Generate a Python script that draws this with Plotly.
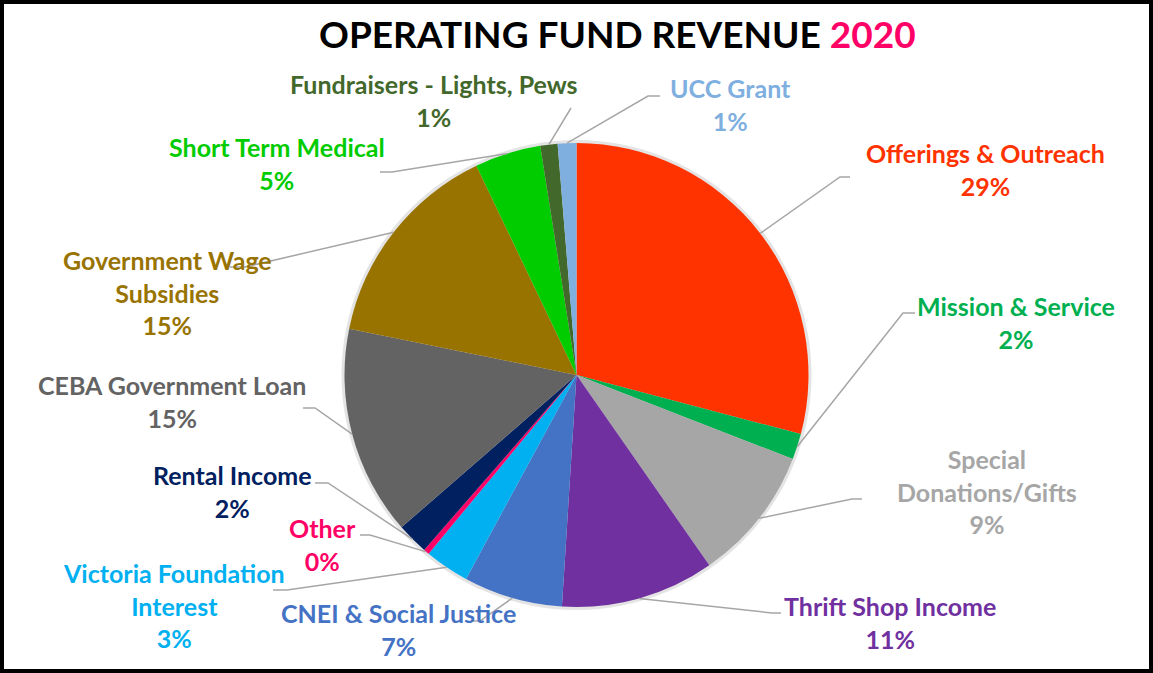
import math
import plotly.graph_objects as go

# ---------------- data ----------------
categories = ["Offerings & Outreach", "Mission & Service", "Special Donations/Gifts",
              "Thrift Shop Income", "CNEI & Social Justice", "Victoria Foundation Interest",
              "Other", "Rental Income", "CEBA Government Loan", "Government Wage Subsidies",
              "Short Term Medical", "Fundraisers - Lights, Pews", "UCC Grant"]
values = [29.1, 1.8, 9.4, 10.7, 6.9, 3.1, 0.4, 2.2, 14.6, 14.7, 4.6, 1.2, 1.3]
colors = ["#FF3300", "#00B050", "#A6A6A6", "#7030A0", "#4472C4", "#00B0F0",
          "#FF0066", "#002060", "#636363", "#997300", "#00CC00", "#43682B", "#7FAFDF"]
display_names = ["Offerings & Outreach", "Mission & Service", "Special<br>Donations/Gifts",
                 "Thrift Shop Income", "CNEI & Social Justice", "Victoria Foundation<br>Interest",
                 "Other", "Rental Income", "CEBA Government Loan", "Government Wage<br>Subsidies",
                 "Short Term Medical", "Fundraisers - Lights, Pews", "UCC Grant"]

# ---------------- layout (pixels) ----------------
W, H = 1153, 673
CX, CY, R = 576.5, 375.0, 232.0
# label block centres (x, y) and leader elbow / end points
label_pos = [(985, 169.5), (1016, 322.5), (987, 491), (890, 622), (398, 629),
             (174, 605), (322, 544), (232, 491.5), (172, 401.5), (168, 292),
             (277, 163.5), (434, 100.5), (730, 104)]
elbows = [((840, 177), (850, 177)), ((903, 313), (915, 313)), ((852, 499), (862, 499)),
          ((772, 613), (781, 613)), ((480, 621), (472, 621)), ((287, 590), (273, 590)),
          ((370, 535), (360, 535)), ((328, 483), (315, 483)), ((315, 408), (303, 408)),
          ((245, 267), (230, 267)), ((392, 172), (380, 172)), ((571, 108), (571, 108)),
          ((648, 96), (660, 96))]

def px(x):
    return x / W

def py(y):
    return 1 - y / H

fig = go.Figure()
fig.add_trace(go.Pie(
    labels=categories, values=values, sort=False, direction="clockwise", rotation=0,
    marker=dict(colors=colors, line=dict(width=0)),
    textinfo="none", hoverinfo="label+percent", showlegend=False,
    domain=dict(x=[px(CX - R), px(CX + R)], y=[py(CY + R), py(CY - R)]),
))

shapes = []
# subtle glow behind pie
shapes.append(dict(type="circle", xref="paper", yref="paper", layer="below",
                   x0=px(CX - R - 3), x1=px(CX + R + 3), y0=py(CY + R + 3), y1=py(CY - R - 3),
                   fillcolor="#E4E4E4", line=dict(width=0)))

total = sum(values)
annotations = []
cum = 0.0
for i, v in enumerate(values):
    mid = (cum + v / 2) / total * 2 * math.pi
    cum += v
    ex = CX + R * math.sin(mid)
    ey = CY - R * math.cos(mid)
    (bx, by), (tx, ty) = elbows[i]
    path = f"M {px(ex)},{py(ey)} L {px(bx)},{py(by)} L {px(tx)},{py(ty)}"
    shapes.append(dict(type="path", xref="paper", yref="paper", path=path,
                       line=dict(color="#A6A6A6", width=1.5)))
    pct = round(v / total * 100)
    lx, ly = label_pos[i]
    annotations.append(dict(
        x=px(lx), y=py(ly), xref="paper", yref="paper", showarrow=False,
        xanchor="center", yanchor="middle", align="center",
        text=f"{display_names[i]}<br>{pct}%",
        font=dict(family="Lato", size=25, color=colors[i], weight=700),
    ))

annotations.append(dict(
    x=px(617), y=py(33), xref="paper", yref="paper", showarrow=False,
    xanchor="center", yanchor="middle",
    text="OPERATING FUND REVENUE <span style='color:#FF0066'>2020</span>",
    font=dict(family="Lato", size=37, color="#000000", weight=700),
))

# outer black border
shapes.append(dict(type="rect", xref="paper", yref="paper", x0=0, x1=1, y0=0, y1=1,
                   line=dict(color="#000000", width=8), fillcolor="rgba(0,0,0,0)"))

fig.update_layout(
    width=W, height=H, margin=dict(l=0, r=0, t=0, b=0),
    paper_bgcolor="#FFFFFF", plot_bgcolor="#FFFFFF",
    shapes=shapes, annotations=annotations,
)
fig.write_html("out.html", config={"displayModeBar": False},
               post_script="document.body.style.margin='0';document.body.style.overflow='hidden';")
